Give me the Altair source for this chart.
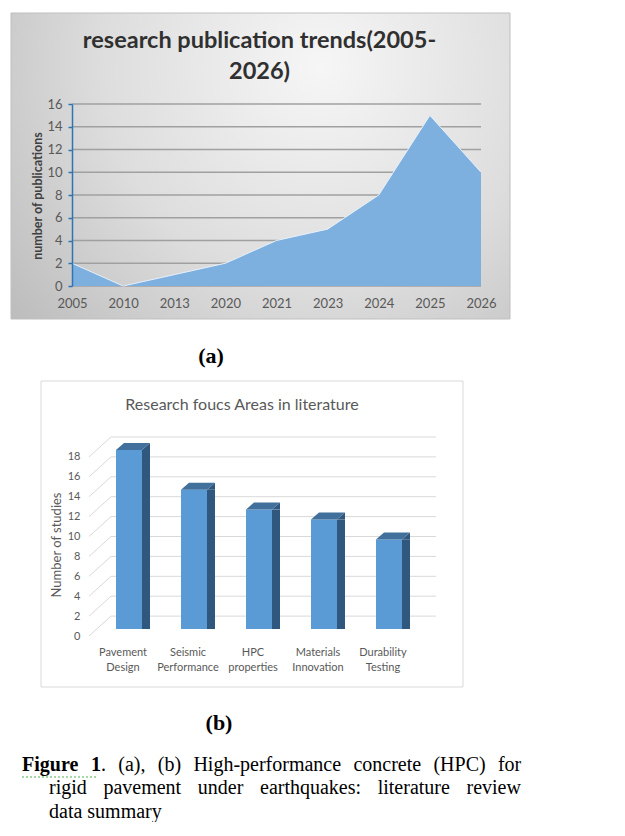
import altair as alt
import pandas as pd

# (a) publications per year
years = ["2005", "2010", "2013", "2020", "2021", "2023", "2024", "2025", "2026"]
publications = [2, 0, 1, 2, 4, 5, 8, 15, 10]
pub_ticks = [0, 2, 4, 6, 8, 10, 12, 14, 16]

# (b) research focus areas
areas = [
    "Pavement Design",
    "Seismic Performance",
    "HPC properties",
    "Materials Innovation",
    "Durability Testing",
]
studies = [18, 14, 12, 11, 9]
study_ticks = [0, 2, 4, 6, 8, 10, 12, 14, 16, 18]

title_a = ["research publication trends(2005-", "2026)"]
ytitle_a = "number of publications"
title_b = "Research foucs Areas in literature"
ytitle_b = "Number of studies"

caption_1 = ["Figure", "1", ".", "(a),", "(b)", "High-performance", "concrete", "(HPC)", "for"]
caption_2 = ["rigid", "pavement", "under", "earthquakes:", "literature", "review"]
caption_3 = ["data summary"]

# page layout (px) - plot origins of the two panels
A_X, A_Y = 71, 103
B_X, B_Y = 71, 436
W_A, H_A = 409, 182
W_B, H_B = 364, 199

GREY = "#595959"
SANS = "Lato"
SERIF = "Liberation Serif"


def one_row():
    return pd.DataFrame({"k": [0]})


def label(text, x, y, **style):
    return (
        alt.Chart(pd.DataFrame({"text": [text]}))
        .mark_text(**style)
        .encode(text="text:N", x=alt.value(x), y=alt.value(y))
    )


def box(x, x2, y, y2, **style):
    return (
        alt.Chart(one_row())
        .mark_rect(**style)
        .encode(x=alt.value(x), x2=alt.value(x2), y=alt.value(y), y2=alt.value(y2))
    )


# ---------------- chart (a) ----------------
pubs = pd.DataFrame({"year": years, "count": publications})
grid_a = pd.DataFrame({"tick": pub_ticks})

y_axis_a = alt.Axis(
    values=pub_ticks, title=None, grid=False, domainColor="#2e75b6", domainWidth=1.5,
    tickColor="#2e75b6", tickSize=4, tickWidth=1.5, labelPadding=6,
    labelFont=SANS, labelFontSize=13, labelColor=GREY, zindex=1,
)
y_scale_a = alt.Scale(domain=[0, 16], nice=False)

bg_a = box(
    -61, 438, -91, 215,
    stroke="#bfbfbf", strokeWidth=1,
    color=alt.Gradient(
        gradient="radial",
        x1=0.62, y1=0.3, r1=0, x2=0.62, y2=0.3, r2=0.8,
        stops=[
            alt.GradientStop(color="#f6f6f6", offset=0),
            alt.GradientStop(color="#dddddd", offset=0.55),
            alt.GradientStop(color="#bcbcbc", offset=1),
        ],
    ),
)

gridlines_a = (
    alt.Chart(grid_a)
    .mark_rule(color="#a0a0a0", strokeWidth=1.4)
    .encode(
        y=alt.Y("tick:Q", scale=y_scale_a, axis=y_axis_a),
        x=alt.value(0),
        x2=alt.value(W_A),
    )
)

area_a = (
    alt.Chart(pubs)
    .mark_area(
        color="#7db0de", opacity=1,
        line=alt.OverlayMarkDef(color="#e6f0fa", strokeWidth=1),
    )
    .encode(
        x=alt.X(
            "year:O", sort=years, scale=alt.Scale(type="point", padding=0),
            axis=alt.Axis(
                title=None, labelAngle=0, domain=False, ticks=False, grid=False,
                labelPadding=17, labelBaseline="middle", labelFont=SANS,
                labelFontSize=13, labelColor=GREY, zindex=1,
            ),
        ),
        y=alt.Y("count:Q", scale=y_scale_a, axis=y_axis_a),
    )
)

chart_a = alt.layer(
    bg_a,
    gridlines_a,
    area_a,
    label(title_a[0], 187.5, -56, font=SANS, fontSize=23.5, fontWeight="bold",
          color="#303030", align="center", baseline="alphabetic"),
    label(title_a[1], 187.5, -25, font=SANS, fontSize=23.5, fontWeight="bold",
          color="#303030", align="center", baseline="alphabetic"),
    label(ytitle_a, -34, 92, font=SANS, fontSize=12.5, fontWeight="bold",
          color="#404040", angle=270, align="center", baseline="middle"),
    label("(a)", 139, 259, font=SERIF, fontSize=22, fontWeight="bold",
          color="black", align="center", baseline="alphabetic"),
).properties(width=W_A, height=H_A)

# ---------------- chart (b) ----------------
focus = pd.DataFrame({"area": areas, "studies": studies})
grid_b = pd.DataFrame({"v": study_ticks})

y_scale_b = alt.Scale(domain=[0, 20], nice=False)
y_axis_b = alt.Axis(
    values=study_ticks, title=None, grid=False, domain=False, ticks=False,
    tickSize=0, offset=-9, labelPadding=1, labelFont=SANS, labelFontSize=11,
    labelColor=GREY, zindex=1,
)
x_b = alt.X(
    "area:N", sort=areas,
    scale=alt.Scale(range=[44, 330], paddingInner=0.6, paddingOuter=0),
    axis=alt.Axis(
        title=None, labelAngle=0, domain=False, ticks=False, tickSize=0, grid=False,
        labelExpr="split(datum.label, ' ')", labelOffset=-6, labelPadding=10,
        labelBaseline="top", labelLineHeight=15, labelFont=SANS,
        labelFontSize=11, labelColor=GREY, zindex=1,
    ),
)


def y_b(field):
    return alt.Y(field, scale=y_scale_b, axis=y_axis_b)


FRONT, TOP, SIDE = "#5b9bd5", "#41709c", "#30587e"

bg_b = box(-31, 391, -56, 250, color="white", stroke="#d9d9d9", strokeWidth=1)

back_wall = (
    alt.Chart(grid_b)
    .transform_calculate(back="datum.v + 2")
    .mark_rule(color="#d9d9d9", strokeWidth=1)
    .encode(y=y_b("back:Q"), x=alt.value(39), x2=alt.value(W_B))
)

side_wall = (
    alt.Chart(grid_b)
    .transform_calculate(back="datum.v + 2")
    .mark_rule(color="#d9d9d9", strokeWidth=1)
    .encode(y=y_b("v:Q"), y2="back:Q", x=alt.value(17), x2=alt.value(39))
)

bars = alt.Chart(focus)

front = bars.mark_bar(color=FRONT, yOffset=-7, y2Offset=-7).encode(
    x=x_b, y=y_b("studies:Q")
)
side = bars.mark_bar(color=SIDE, width=8, xOffset=17, yOffset=-7, y2Offset=-14).encode(
    x=x_b, y=y_b("studies:Q")
)
side_top = bars.mark_point(
    shape="M 13 -7 L 21 -14 L 21 -7 Z", size=4, filled=True, opacity=1,
    color=SIDE, strokeWidth=0,
).encode(x=x_b, y=y_b("studies:Q"))
side_bottom = (
    bars.transform_calculate(zero="0")
    .mark_point(
        shape="M 13 -14 L 13 -7 L 21 -14 Z", size=4, filled=True, opacity=1,
        color=SIDE, strokeWidth=0,
    )
    .encode(x=x_b, y=y_b("zero:Q"))
)
top = bars.mark_point(
    shape="M -13 -7 L 13 -7 L 21 -14 L -5 -14 Z", size=4, filled=True, opacity=1,
    color=TOP, strokeWidth=0,
).encode(x=x_b, y=y_b("studies:Q"))

# caption words placed as a justified paragraph (page coordinates)
cap_x1 = [21, 90, 100, 117.3, 156.8, 192.4, 352.4, 432.4, 496.9]
cap_x2 = [48, 102.4, 196.8, 259, 376.7, 465.5]
cap_x3 = [48]
caption = []
for words, xs, base in [(caption_1, cap_x1, 770), (caption_2, cap_x2, 793), (caption_3, cap_x3, 817)]:
    for w, x in zip(words, xs):
        bold = w in ("Figure", "1")
        caption.append(
            label(w, x - B_X, base - B_Y, font=SERIF, fontSize=20,
                  fontWeight="bold" if bold else "normal", color="black",
                  align="left", baseline="alphabetic")
        )

squiggle = (
    alt.Chart(one_row())
    .mark_rule(color="#4caf50", strokeWidth=1.2, strokeDash=[2, 2])
    .encode(x=alt.value(21 - B_X), x2=alt.value(97 - B_X), y=alt.value(776 - B_Y))
)

chart_b = alt.layer(
    bg_b,
    back_wall,
    side_wall,
    side,
    side_top,
    side_bottom,
    front,
    top,
    label(title_b, 170, -27, font=SANS, fontSize=16, color=GREY,
          align="center", baseline="alphabetic"),
    label(ytitle_b, -15, 108, font=SANS, fontSize=13, color=GREY,
          angle=270, align="center", baseline="middle"),
    label("(b)", 147, 293, font=SERIF, fontSize=22, fontWeight="bold",
          color="black", align="center", baseline="alphabetic"),
    squiggle,
    *caption,
).properties(width=W_B, height=H_B)

chart = (
    alt.vconcat(
        chart_a, chart_b, spacing=B_Y - A_Y - H_A, bounds="flush",
        padding={"left": 2, "top": 4, "right": 0, "bottom": 0},
        background="white",
    )
    .configure_view(strokeWidth=0)
)

chart.save("out.html", embed_options={"renderer": "svg", "actions": False})
